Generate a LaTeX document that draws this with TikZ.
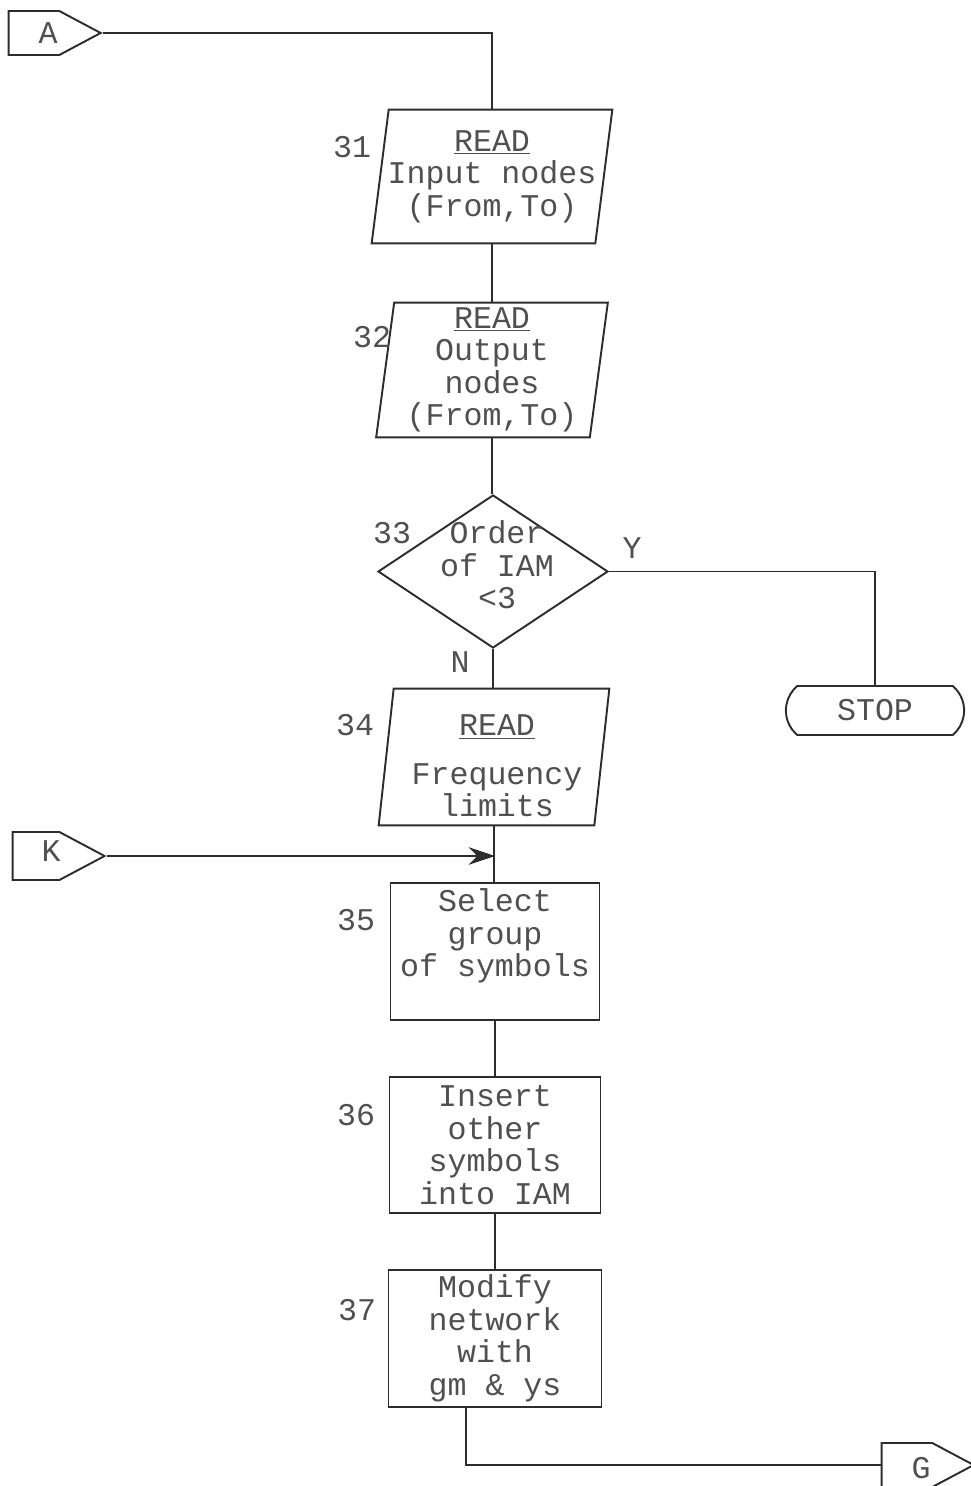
\documentclass[tikz,border=0pt]{standalone}
\usepackage{fontspec}
\setmainfont{Liberation Mono}
\usepackage{xcolor}
\usepackage{tikz}
\usetikzlibrary{shapes.geometric, shapes.misc, shapes.symbols, arrows.meta, positioning, calc}
\definecolor{inkgray}{RGB}{80,80,80}
\definecolor{linegray}{RGB}{45,45,45}

\begin{document}
\begin{tikzpicture}[x=0.02cm, y=-0.02cm,
    every node/.style={font=\fontsize{18}{18.5}\selectfont, text=inkgray},
    flowline/.style={draw=linegray, line width=1.1pt},
    procbox/.style={draw=linegray, line width=1.1pt, rectangle, align=center, inner sep=0pt},
    readbox/.style={rectangle, align=center, inner sep=0pt},
    decision/.style={draw=linegray, line width=1.1pt, diamond, inner sep=0pt, minimum width=4.6cm, minimum height=3.06cm},
    offpage/.style={draw=linegray, line width=1.1pt, signal, signal to=east, signal pointer angle=56, inner sep=0pt, minimum width=1.84cm, minimum height=0.88cm},
    terminal/.style={draw=linegray, line width=1.1pt, rounded rectangle, rounded rectangle arc length=100, minimum width=3.8cm, minimum height=0.98cm}]
    \useasboundingbox (0,0) rectangle (970,1486);

    % Off-page connectors
    \node[offpage, label={[xshift=0.28cm]center:A}] (A) at (34,33) {};
    \node[offpage, minimum height=0.96cm, label={[xshift=0.3cm,yshift=0.1cm]center:K}] (K) at (36,856) {};
    \node[offpage, label={[xshift=0.28cm,yshift=-0.06cm]center:G}] (G) at (907,1465) {};

    % Read boxes (outline drawn below)
    \node[readbox, minimum width=4.46cm, minimum height=2.66cm] (b31) at (492,176.5) {\underline{READ}\\Input nodes\\(From,To)};
    \node[readbox, minimum width=4.26cm, minimum height=2.68cm] (b32) at (492,370) {\underline{READ}\\Output\\nodes\\(From,To)};
    \node[readbox, minimum width=4.3cm, minimum height=2.72cm] (b34) at (494,757) {};
    \node[align=center] (b34text) at (497,766) {\underline{READ}\\[9pt]Frequency\\limits};
    \foreach \nm/\s in {b31/8.5, b32/9, b34/7.5}
        \draw[flowline] ($(\nm.north west)+(\s,0)$) -- ($(\nm.north east)+(\s,0)$) -- ($(\nm.south east)+(-\s,0)$) -- ($(\nm.south west)+(-\s,0)$) -- cycle;

    % Decision and stop
    \node[decision] (d33) at (493,571.5) {};
    \node[align=center] (d33text) at (497,565) {Order\\of IAM\\<3};
    \node[terminal] (stop) at (875,710.5) {STOP};

    % Process boxes
    \node[procbox, minimum width=4.18cm, minimum height=2.74cm] (b35) at (495,951.5) {};
    \node[align=center] (b35text) at (495,936) {Select\\group\\of symbols};
    \node[procbox, minimum width=4.22cm, minimum height=2.72cm] (b36) at (495,1145) {Insert\\other\\symbols\\into IAM};
    \node[procbox, minimum width=4.26cm, minimum height=2.74cm] (b37) at (495,1338.5) {Modify\\network\\with\\gm \& ys};

    % Step numbers
    \node (n31) at (352,147) {31};
    \node (n32) at (372,337) {32};
    \node (n33) at (392,533) {33};
    \node (n34) at (355,725) {34};
    \node (n35) at (356,920) {35};
    \node (n36) at (356,1115) {36};
    \node (n37) at (357,1310) {37};

    % Branch labels
    \node (yes) at (632,548) {Y};
    \node (no) at (460,662) {N};

    % Connectors
    \draw[flowline] (A.east) -| (b31.north);
    \draw[flowline] (b31.south) -- (b32.north);
    \draw[flowline] (b32.south) -- (b32.south |- d33.north);
    \draw[flowline] (d33.east) -| (stop.north);
    \draw[flowline] (d33.south) -- (d33.south |- b34.north);
    \draw[flowline] (b34.south) -- (b34.south |- b35.north);
    \draw[flowline, -{Stealth[length=15pt, width=10pt]}] (K.east) -- (K.east -| b35.north);
    \draw[flowline] (b35.south) -- (b36.north);
    \draw[flowline] (b36.south) -- (b37.north);
    \draw[flowline] ($(b37.south)+(-29,0)$) |- (G.west);
\end{tikzpicture}
\end{document}
